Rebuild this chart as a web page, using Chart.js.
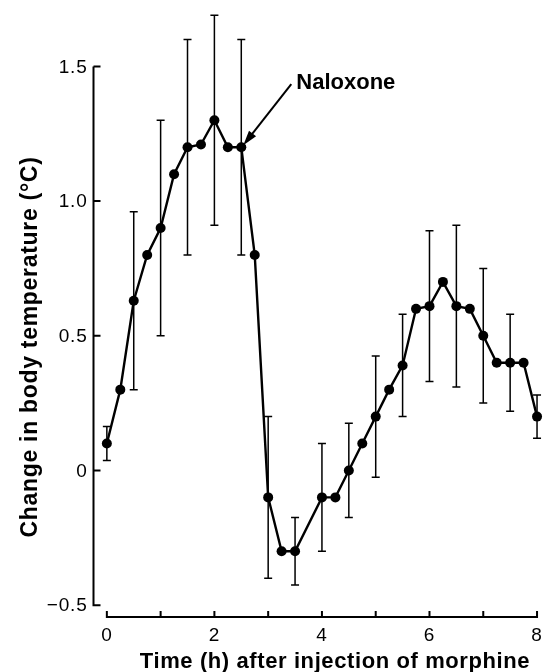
<!DOCTYPE html>
<html>
<head>
<meta charset="utf-8">
<title>Body temperature after morphine</title>
<script src="https://cdn.jsdelivr.net/npm/chart.js@4.4.1/dist/chart.umd.min.js"></script>
<style>
  html, body { margin: 0; padding: 0; background: #fff; }
  #wrap { width: 543px; height: 672px; position: relative; }
</style>
</head>
<body>
<div id="wrap"><canvas id="myChart"></canvas></div>
<script>
/*******************************
* DATA
********************************/
var times = [0, 0.25, 0.5, 0.75, 1, 1.25, 1.5, 1.75, 2, 2.25, 2.5, 2.75, 3, 3.25, 3.5,
             4, 4.25, 4.5, 4.75, 5, 5.25, 5.5, 5.75, 6, 6.25, 6.5, 6.75, 7, 7.25, 7.5, 7.75, 8];
var tempChange = [0.10, 0.30, 0.63, 0.80, 0.90, 1.10, 1.20, 1.21, 1.30, 1.20, 1.20, 0.80, -0.10, -0.30, -0.30,
                  -0.10, -0.10, 0.00, 0.10, 0.20, 0.30, 0.39, 0.60, 0.61, 0.70, 0.61, 0.60, 0.50, 0.40, 0.40, 0.40, 0.20];
// +/- error (null where no bar is drawn)
var tempError = [0.063, null, 0.33, null, 0.40, null, 0.40, null, 0.39, null, 0.40, null, 0.30, null, 0.125,
                 0.20, null, 0.175, null, 0.225, null, 0.19, null, 0.28, null, 0.30, null, 0.25, null, 0.18, null, 0.08];

var xTicks = [0, 1, 2, 3, 4, 5, 6, 7, 8];
var xTickLabels = ['0', '', '2', '', '4', '', '6', '', '8'];
var yTicks = [-0.5, 0, 0.5, 1.0, 1.5];
var yTickLabels = ['\u22120.5', '0', '0.5', '1.0', '1.5'];

var xTitle = 'Time (h) after injection of morphine';
var yTitle = 'Change in body temperature (\u00B0C)';
var noteText = 'Naloxone';
var noteAt = { x: 2.5, y: 1.2 };

(function(){

  var FONT = '"Liberation Sans", Arial, Helvetica, sans-serif';

  /*******************************
  * Error bars under the points
  ********************************/
  var errorBars = {
    id: 'errorBars',
    beforeDatasetsDraw: function(chart) {
      var x = chart.scales.x, y = chart.scales.y, ctx = chart.ctx;
      ctx.save();
      ctx.strokeStyle = '#000';
      ctx.lineWidth = 1.5;
      times.forEach(function(t, i) {
        var e = tempError[i];
        if (e === null) return;
        var px = x.getPixelForValue(t);
        var top = y.getPixelForValue(tempChange[i] + e);
        var bot = y.getPixelForValue(tempChange[i] - e);
        ctx.beginPath();
        ctx.moveTo(px, top); ctx.lineTo(px, bot);
        ctx.moveTo(px - 4, top); ctx.lineTo(px + 4, top);
        ctx.moveTo(px - 4, bot); ctx.lineTo(px + 4, bot);
        ctx.stroke();
      });
      ctx.restore();
    }
  };

  /*******************************
  * Axes, labels, annotation
  ********************************/
  var axes = {
    id: 'axes',
    afterDraw: function(chart) {
      var x = chart.scales.x, y = chart.scales.y, ctx = chart.ctx;
      var axisX = 93.5, axisY = 617;
      ctx.save();
      ctx.strokeStyle = '#000';
      ctx.fillStyle = '#000';
      ctx.lineWidth = 2;

      // y axis + inward ticks
      ctx.beginPath();
      ctx.moveTo(axisX, y.getPixelForValue(yTicks[yTicks.length - 1]));
      ctx.lineTo(axisX, y.getPixelForValue(yTicks[0]) + 1);
      yTicks.forEach(function(v) {
        var py = y.getPixelForValue(v);
        ctx.moveTo(axisX, py); ctx.lineTo(axisX + 7, py);
      });
      ctx.stroke();

      // x axis + inward ticks
      ctx.beginPath();
      ctx.moveTo(x.getPixelForValue(xTicks[0]) - 1, axisY);
      ctx.lineTo(x.getPixelForValue(xTicks[xTicks.length - 1]) + 1, axisY);
      xTicks.forEach(function(v) {
        var px = x.getPixelForValue(v);
        ctx.moveTo(px, axisY); ctx.lineTo(px, axisY - 6);
      });
      ctx.stroke();

      // tick labels
      ctx.font = '19px ' + FONT;
      ctx.letterSpacing = '0.8px';
      ctx.textAlign = 'right';
      ctx.textBaseline = 'middle';
      yTicks.forEach(function(v, i) {
        ctx.fillText(yTickLabels[i], axisX - 6, y.getPixelForValue(v) + 1);
      });
      ctx.textAlign = 'center';
      ctx.textBaseline = 'alphabetic';
      xTicks.forEach(function(v, i) {
        if (xTickLabels[i]) ctx.fillText(xTickLabels[i], x.getPixelForValue(v), 641);
      });

      // axis titles
      ctx.font = 'bold 22px ' + FONT;
      ctx.letterSpacing = '0.6px';
      ctx.fillText(xTitle, 335, 668);
      ctx.save();
      ctx.font = 'bold 23px ' + FONT;
      ctx.letterSpacing = '0.7px';
      ctx.translate(31, 347);
      ctx.rotate(-Math.PI / 2);
      ctx.textBaseline = 'middle';
      ctx.fillText(yTitle, 0, 0);
      ctx.restore();
      ctx.letterSpacing = '0px';

      // Naloxone arrow, anchored to the data point
      var ax = x.getPixelForValue(noteAt.x) + 2;
      var ay = y.getPixelForValue(noteAt.y) - 2;
      var sx = ax + 48, sy = ay - 61;
      var ang = Math.atan2(ay - sy, ax - sx);
      ctx.lineWidth = 2;
      ctx.beginPath();
      ctx.moveTo(sx, sy);
      ctx.lineTo(ax - Math.cos(ang) * 10, ay - Math.sin(ang) * 10);
      ctx.stroke();
      ctx.beginPath();
      ctx.moveTo(ax, ay);
      ctx.lineTo(ax - Math.cos(ang) * 15 + Math.sin(ang) * 4.5, ay - Math.sin(ang) * 15 - Math.cos(ang) * 4.5);
      ctx.lineTo(ax - Math.cos(ang) * 15 - Math.sin(ang) * 4.5, ay - Math.sin(ang) * 15 + Math.cos(ang) * 4.5);
      ctx.closePath();
      ctx.fill();

      ctx.font = 'bold 22px ' + FONT;
      ctx.textAlign = 'left';
      ctx.fillText(noteText, ax + 53, ay - 56);
      ctx.restore();
    }
  };

  /*******************************
  * CHART
  ********************************/
  var ctx = document.getElementById('myChart');
  new Chart(ctx, {
    type: 'line',
    data: {
      datasets: [{
        label: 'Body temperature',
        data: times.map(function(t, i) { return { x: t, y: tempChange[i] }; }),
        borderColor: '#000',
        backgroundColor: '#000',
        borderWidth: 2.4,
        pointRadius: 5,
        pointHoverRadius: 5,
        pointBackgroundColor: '#000',
        pointBorderWidth: 0,
        tension: 0,
        clip: false
      }]
    },
    options: {
      responsive: true,
      maintainAspectRatio: false,
      animation: false,
      events: [],
      layout: { padding: { left: 94, right: 0, top: 0, bottom: 55 } },
      plugins: { legend: { display: false }, tooltip: { enabled: false } },
      scales: {
        x: { type: 'linear', min: -0.239, max: 8.018, display: false },
        y: { type: 'linear', min: -0.544, max: 1.728, display: false }
      }
    },
    plugins: [errorBars, axes]
  });

})();
</script>
</body>
</html>
